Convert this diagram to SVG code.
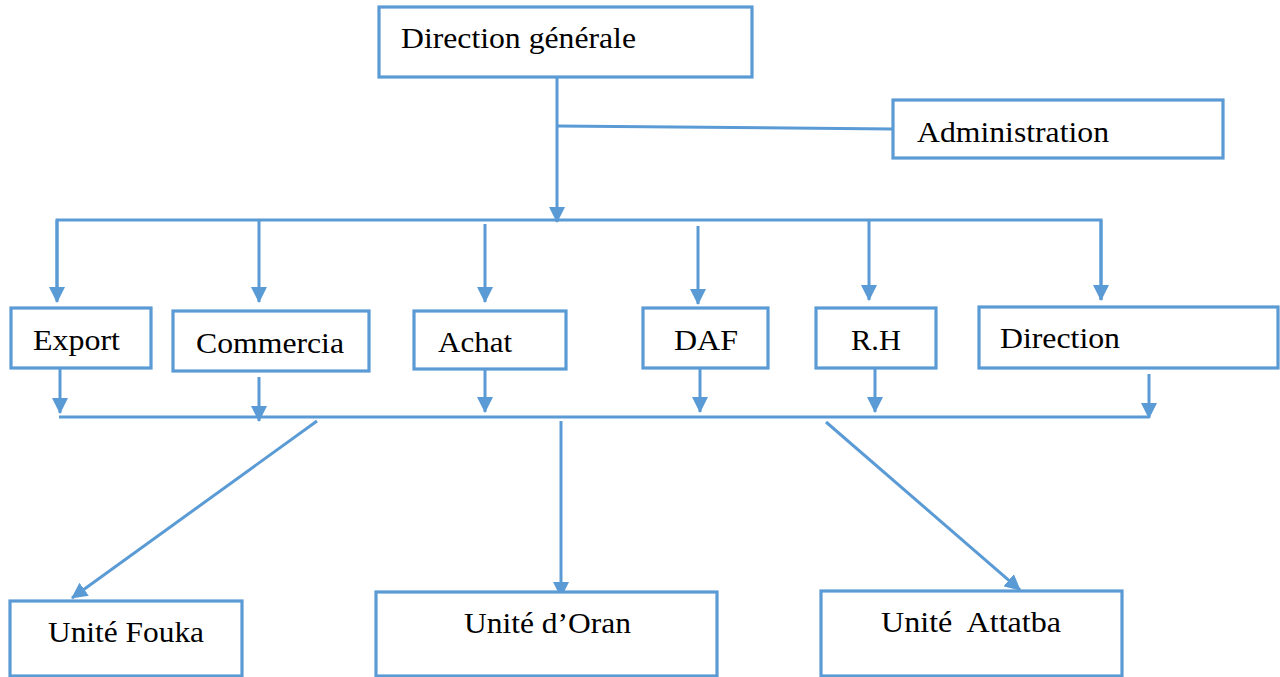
<svg xmlns="http://www.w3.org/2000/svg" width="1280" height="677" viewBox="0 0 1280 677">
<style>
.box{fill:#fff;stroke:#5B9BD5;stroke-width:3.2}
.ln{fill:none;stroke:#5B9BD5;stroke-width:3}
.ar{fill:none;stroke:#5B9BD5;stroke-width:3;marker-end:url(#ah)}
text{font-family:"Liberation Serif","Times New Roman",serif;font-size:30px;fill:#000}
</style>
<defs>
<marker id="ah" markerUnits="userSpaceOnUse" markerWidth="16" markerHeight="16" refX="15" refY="8" orient="auto">
<path d="M0,0 L16,8 L0,16 z" fill="#5B9BD5"/>
</marker>
</defs>
<rect width="1280" height="677" fill="#fff"/>
<g id="connectors">
<line class="ar" x1="557" y1="77" x2="557" y2="222"/>
<line class="ln" x1="557" y1="126" x2="893" y2="129"/>
<polyline class="ln" points="57,300 57,220 1101,220 1101,300"/>
<line class="ar" x1="57" y1="220" x2="57" y2="302"/>
<line class="ar" x1="259" y1="220" x2="259" y2="302"/>
<line class="ar" x1="485" y1="224" x2="485" y2="302"/>
<line class="ar" x1="698" y1="226" x2="698" y2="304"/>
<line class="ar" x1="869" y1="220" x2="869" y2="300"/>
<line class="ar" x1="1101" y1="220" x2="1101" y2="300"/>
<line class="ar" x1="60" y1="368" x2="60" y2="413"/>
<line class="ar" x1="259" y1="377" x2="259" y2="421"/>
<line class="ar" x1="485" y1="369" x2="485" y2="412"/>
<line class="ar" x1="700" y1="368" x2="700" y2="412"/>
<line class="ar" x1="875" y1="368" x2="875" y2="412"/>
<line class="ar" x1="1149" y1="374" x2="1149" y2="418"/>
<line class="ln" x1="59" y1="417" x2="1149" y2="417"/>
<line class="ar" x1="317" y1="421" x2="72" y2="598"/>
<line class="ar" x1="561" y1="421" x2="561" y2="597"/>
<line class="ar" x1="826" y1="422" x2="1020" y2="590"/>
</g>
<g id="n-direction-generale"><rect class="box" x="379" y="7" width="373" height="70"/><text x="401" y="48" textLength="235" lengthAdjust="spacingAndGlyphs">Direction générale</text></g>
<g id="n-administration"><rect class="box" x="893" y="100" width="330" height="58"/><text x="917" y="142" textLength="192" lengthAdjust="spacingAndGlyphs">Administration</text></g>
<g id="n-export"><rect class="box" x="11" y="308" width="140" height="60"/><text x="33" y="350" textLength="87" lengthAdjust="spacingAndGlyphs">Export</text></g>
<g id="n-commercia"><rect class="box" x="173" y="311" width="196" height="60"/><text x="196" y="353" textLength="148" lengthAdjust="spacingAndGlyphs">Commercia</text></g>
<g id="n-achat"><rect class="box" x="414" y="311" width="152" height="58"/><text x="438" y="352" textLength="74" lengthAdjust="spacingAndGlyphs">Achat</text></g>
<g id="n-daf"><rect class="box" x="643" y="308" width="125" height="60"/><text x="674" y="350" textLength="64" lengthAdjust="spacingAndGlyphs">DAF</text></g>
<g id="n-rh"><rect class="box" x="816" y="308" width="120" height="60"/><text x="851" y="350" textLength="50" lengthAdjust="spacingAndGlyphs">R.H</text></g>
<g id="n-direction"><rect class="box" x="979" y="307" width="299" height="61"/><text x="1000" y="348" textLength="120" lengthAdjust="spacingAndGlyphs">Direction</text></g>
<g id="n-fouka"><rect class="box" x="10" y="601" width="232" height="75"/><text x="48" y="642" textLength="156" lengthAdjust="spacingAndGlyphs">Unité Fouka</text></g>
<g id="n-oran"><rect class="box" x="376" y="592" width="341" height="84"/><text x="464" y="633" textLength="167" lengthAdjust="spacingAndGlyphs">Unité d’Oran</text></g>
<g id="n-attatba"><rect class="box" x="821" y="591" width="301" height="85"/><text x="881" y="632" xml:space="preserve" textLength="180" lengthAdjust="spacingAndGlyphs">Unité  Attatba</text></g>
</svg>
